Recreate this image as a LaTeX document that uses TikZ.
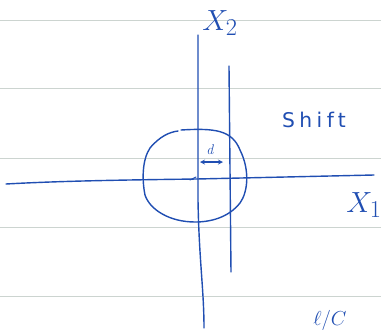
\documentclass[tikz,border=0pt]{standalone}
\usepackage{fontspec}
\usepackage{tikz}
\newfontfamily\handfont[LetterSpace=22]{DejaVu Sans}
\definecolor{inkcol}{RGB}{32,78,178}
\definecolor{rulecol}{RGB}{204,212,208}

\begin{document}
\begin{tikzpicture}[x=0.03cm,y=-0.03cm,
  ink/.style={inkcol,line width=1.2pt,line cap=round},
  lbl/.style={inkcol,inner sep=0pt}]
\useasboundingbox (0,0) rectangle (381,331);
\foreach \y in {20,88,158,227,296} \draw[rulecol,line width=0.8pt] (0,\y) -- (381,\y);
% axes
\coordinate (west) at (6,184);
\coordinate (east) at (374,175);
\coordinate (north) at (198,35);
\coordinate (south) at (204,328);
\draw[ink] (west) .. controls (60,181) and (120,180) .. (197,179) -- (east);
\draw[ink] (north) -- (198,200) .. controls (199,260) and (204,290) .. (south);
% shifted line
\coordinate (stop) at (229,66);
\coordinate (sbot) at (231,272);
\draw[ink] (stop) -- (sbot);
% circle
\draw[ink] (181,130) .. controls (215,128) and (232,130) .. (240,150)
  .. controls (250,170) and (248,192) .. (240,203)
  .. controls (228,218) and (210,222) .. (195,222)
  .. controls (170,222) and (150,210) .. (145,195)
  .. controls (142,180) and (142,160) .. (150,148)
  .. controls (160,136) and (170,132) .. (178,131);
\draw[ink,line width=0.8pt] (190,180) -- (196,177);
% d arrow
\coordinate (dl) at (200,162);
\coordinate (dr) at (223,162);
\draw[ink,line width=0.9pt,<->,>=stealth] (dl) -- (dr);
\node[lbl,font=\large\itshape] (dlab) at (210,150) {d};
% labels
\node[lbl,font=\Huge] (xtwo) at (220,23) {$X_2$};
\node[lbl,font=\Huge] (xone) at (364,205) {$X_1$};
\node[lbl,font=\LARGE\handfont] (shift) at (314,120) {Shift};
\node[lbl,font=\LARGE,anchor=south] (pc) at (330,331) {$\ell/C$};
\end{tikzpicture}
\end{document}
